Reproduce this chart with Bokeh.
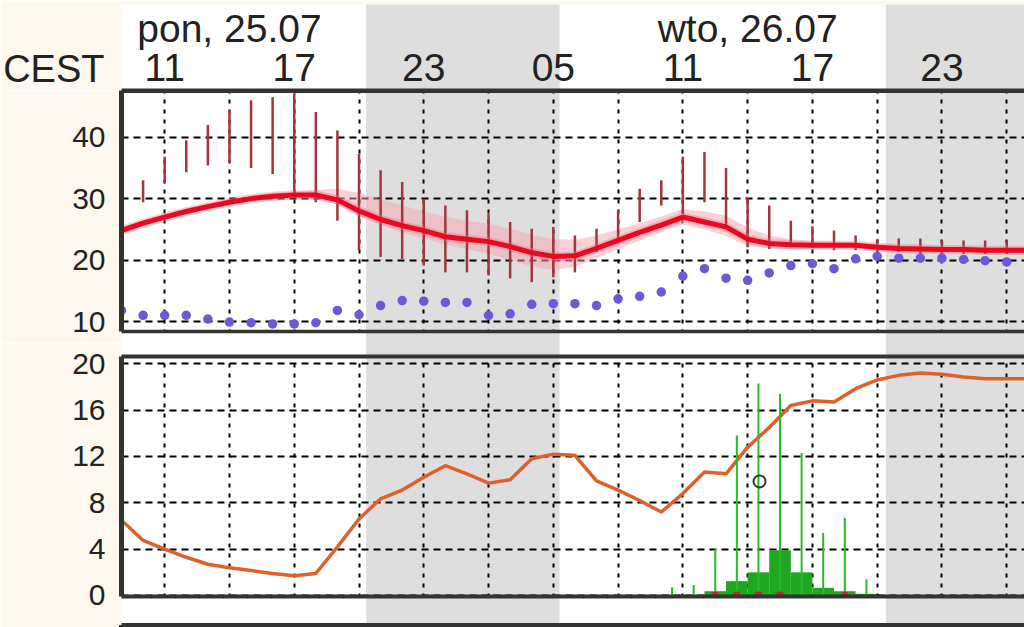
from bokeh.plotting import figure
from bokeh.models import Range1d, FixedTicker
from bokeh.layouts import column
from bokeh.core.properties import value
from bokeh.embed import file_html
from bokeh.resources import INLINE

hours = list(range(9, 52))

temp = [24.8, 26.0, 27.0, 27.9, 28.7, 29.4, 30.0, 30.4, 30.6, 30.6, 29.8, 28.0, 26.6, 25.6,
        24.8, 23.8, 23.4, 23.0, 22.2, 21.2, 20.6, 20.7, 21.9, 23.2, 24.5, 25.7, 27.0, 26.2,
        25.4, 23.4, 22.7, 22.5, 22.4, 22.4, 22.4, 22.1, 21.9, 21.8, 21.7, 21.7, 21.6, 21.6, 21.6]
temp_hi = [25.3, 26.5, 27.5, 28.4, 29.2, 29.9, 30.5, 30.9, 31.1, 31.4, 31.6, 30.9, 29.9, 28.9,
           27.9, 27.0, 26.4, 25.9, 25.1, 24.1, 23.4, 23.3, 24.0, 25.0, 26.0, 27.1, 28.3, 27.9,
           27.2, 25.3, 24.0, 23.4, 23.1, 23.0, 22.9, 22.6, 22.4, 22.3, 22.2, 22.2, 22.1, 22.1, 22.1]
temp_lo = [24.3, 25.5, 26.5, 27.4, 28.2, 28.9, 29.5, 29.9, 30.1, 30.0, 29.0, 27.2, 25.7, 24.5,
           23.5, 22.5, 21.8, 21.0, 20.0, 19.0, 18.4, 18.9, 20.3, 21.8, 23.2, 24.5, 25.8, 25.0,
           23.9, 22.3, 21.9, 21.8, 21.8, 21.9, 21.9, 21.6, 21.4, 21.3, 21.2, 21.2, 21.1, 21.1, 21.1]

range_hours = list(range(10, 51))
range_lo = [29.4, 32.5, 34.3, 35.4, 35.9, 35.0, 34.0, 30.2, 29.4, 26.4, 21.6, 20.5, 20.2, 19.1,
            18.0, 18.0, 17.5, 17.0, 16.4, 17.2, 18.0, 21.3, 23.2, 26.2, 28.9, 27.5, 29.4, 25.5,
            22.1, 21.8, 22.1, 22.0, 21.6, 21.6, 21.4, 21.3, 21.0, 21.0, 21.0, 21.0, 21.0]
range_hi = [33.0, 36.8, 39.5, 42.0, 44.4, 46.0, 46.5, 47.1, 44.1, 41.1, 37.3, 34.6, 32.7, 30.0,
            28.9, 28.1, 27.5, 26.2, 25.1, 25.4, 24.0, 25.1, 28.1, 31.6, 33.0, 36.8, 37.6, 35.0,
            30.2, 28.9, 26.4, 25.5, 24.8, 24.0, 23.4, 23.5, 23.5, 23.2, 23.2, 23.2, 23.2]

dew_hours = list(range(9, 51))
dew = [11.8, 11.0, 11.0, 11.0, 10.4, 9.9, 9.8, 9.6, 9.6, 9.8, 11.8, 11.1, 12.6, 13.4, 13.3,
       13.1, 13.1, 11.0, 11.25, 12.8, 12.9, 12.9, 12.6, 13.7, 14.1, 14.8, 17.4, 18.6, 17.05,
       16.7, 17.9, 19.1, 19.4, 18.6, 20.2, 20.6, 20.3, 20.3, 20.3, 20.1, 19.9, 19.7]

orange = [6.5, 4.75, 4.0, 3.3, 2.7, 2.4, 2.15, 1.9, 1.7, 1.9, 4.2, 6.6, 8.35, 9.1, 10.2, 11.2,
          10.5, 9.7, 10.0, 11.8, 12.2, 12.1, 9.9, 9.1, 8.2, 7.2, 8.8, 10.65, 10.5, 12.8, 14.5,
          16.4, 16.8, 16.7, 17.85, 18.6, 19.0, 19.2, 19.1, 18.85, 18.7, 18.7, 18.7]

prec_max_hours = [34.5, 35.5, 36.5, 37.5, 38.5, 39.5, 40.5, 41.5, 42.5, 43.5]
prec_max = [0.7, 0.9, 4.0, 13.8, 18.3, 17.4, 12.3, 5.4, 6.7, 1.4]
prec_hours = [36, 37, 38, 39, 40, 41, 42, 43]
prec = [0.37, 1.24, 2.0, 3.9, 2.0, 0.66, 0.37, 0.15]
red_dot_hours = [36.5, 37.5, 38.5, 39.5, 42.5]
ring_hour = [38.55]
ring_val = [9.85]

night_start = [20.33, 44.40]
night_end = [29.29, 56.0]

hour_ticks = [11, 17, 23, 29, 35, 41, 47]
hour_labels = ["11", "17", "23", "05", "11", "17", "23"]
date_pos = [14, 38]
date_labels = ["pon, 25.07", "wto, 26.07"]
grid_hours = [11, 14, 17, 20, 23, 26, 29, 32, 35, 38, 41, 44, 47, 50]
temp_ticks = [10, 20, 30, 40]
prec_ticks = [0, 4, 8, 12, 16, 20]

# --- wyglad ---
W = 1024
LEFT = 120
PX_H = 21.615
X0 = 9.0
X1 = X0 + (W - LEFT) / PX_H
CREAM = "#fdf9ee"
GRAY = "#dedede"
INK = "#222222"
EDGE = "#333333"
FONT = value("Liberation Sans")
xr = Range1d(X0, X1)


def style_axis(ax, ticks, size, standoff):
    ax.ticker = FixedTicker(ticks=ticks)
    ax.axis_line_color = None
    ax.major_tick_line_color = None
    ax.minor_tick_line_color = None
    ax.major_tick_out = 0
    ax.major_tick_in = 0
    ax.major_label_standoff = standoff
    ax.major_label_text_font = "Liberation Sans"
    ax.major_label_text_font_size = size
    ax.major_label_text_color = INK


def base(height, y0, y1, top=0):
    f = figure(width=W, height=height, x_range=xr, y_range=Range1d(y0, y1),
               output_backend="svg", toolbar_location=None, x_axis_location=None,
               min_border=0, min_border_left=LEFT, min_border_top=top,
               outline_line_color=None, background_fill_color="white",
               border_fill_color=CREAM)
    f.quad(left=night_start, right=night_end, bottom=y0 - 50, top=y1 + 50,
           fill_color=GRAY, line_color=None, level="image")
    return f


def panel(height, y0, y1, ticks):
    # ramka obejmuje tez przerwy wokol panelu, zeby etykiety osi nie byly ucinane
    f = base(height, y0, y1)
    f.xgrid.ticker = FixedTicker(ticks=grid_hours)
    f.ygrid.ticker = FixedTicker(ticks=ticks)
    f.xgrid.grid_line_dash = "4 6"
    f.ygrid.grid_line_dash = "7 5"
    f.grid.grid_line_color = "black"
    f.grid.grid_line_width = 2
    style_axis(f.yaxis[0], ticks, "30px", 16)
    return f


def gap_cover(f, y0, y1):
    f.quad(left=[X0], right=[X1], bottom=[y0], top=[y1], fill_color="white",
           line_color=None, level="annotation")
    f.quad(left=night_start, right=night_end, bottom=y0, top=y1, fill_color=GRAY,
           line_color=None, level="annotation")


def hline(f, y, w):
    f.segment(x0=[X0], y0=[y], x1=[X1], y1=[y], line_color=EDGE, line_width=w,
              level="annotation")


def vline(f, y0, y1):
    f.segment(x0=[X0], y0=[y0], x1=[X0], y1=[y1], line_color=EDGE, line_width=5,
              level="annotation")


# naglowek z datami i godzinami; "CEST" jako etykieta osi w lewym marginesie
head = base(90, 0, 86, top=4)
head.grid.visible = False
style_axis(head.yaxis[0], [22], "38px", 17)
head.yaxis[0].major_label_overrides = {22: "CEST"}
head.text(x=date_pos, y=62, text=date_labels, text_font=FONT, text_font_size="39px",
          text_align="center", text_baseline="alphabetic", text_color=INK)
head.text(x=hour_ticks, y=23, text=hour_labels, text_font=FONT, text_font_size="39px",
          text_align="center", text_baseline="alphabetic", text_color=INK)
hline(head, 0, 4)

# temperatura: panel 8.37..47.6, ramka w dol do 6.42 (polowa przerwy)
pt = panel(253, 6.42, 47.6, temp_ticks)
pt.varea(x=hours, y1=temp_lo, y2=temp_hi, fill_color="#f4a3b0", fill_alpha=0.5)
pt.segment(x0=range_hours, y0=range_lo, x1=range_hours, y1=range_hi,
           line_color="#a5343c", line_width=2.5)
pt.line(hours, temp, line_color="#f06a7a", line_width=9, line_alpha=0.35)
pt.line(hours, temp, line_color="#e8081f", line_width=5)
pt.scatter(dew_hours, dew, size=9.5, fill_color="#6b5ad8", line_color=None)
gap_cover(pt, 5.0, 8.37)
hline(pt, 47.6, 5)
hline(pt, 8.37, 3.5)
vline(pt, 8.37, 47.6)

# opad: panel -0.086..20.63, ramka od 21.75 (polowa przerwy) do dolu okna
pp = panel(284, -2.762, 21.75, prec_ticks)
pp.line(hours, orange, line_color="#e0602c", line_width=3.5)
pp.quad(left=prec_hours, right=[h + 1 for h in prec_hours], bottom=0, top=prec,
        fill_color="#1fa81f", line_color=None)
pp.segment(x0=prec_max_hours, y0=0, x1=prec_max_hours, y1=prec_max,
           line_color="#2cb82c", line_width=2)
pp.scatter(red_dot_hours, 0, size=8, fill_color="#c0242a", line_color=None)
pp.scatter(ring_hour, ring_val, size=12, fill_color=None, line_color="#333333", line_width=2)
gap_cover(pp, 20.63, 23.0)
gap_cover(pp, -2.546, -0.086)
hline(pp, 20.63, 4)
hline(pp, -0.086, 4)
vline(pp, -0.086, 20.63)
# gorna krawedz kolejnego panelu
hline(pp, -2.546, 4)
vline(pp, -2.9, -2.546)

layout = column(head, pt, pp, spacing=0)
open("out.html", "w").write(file_html(layout, INLINE))
